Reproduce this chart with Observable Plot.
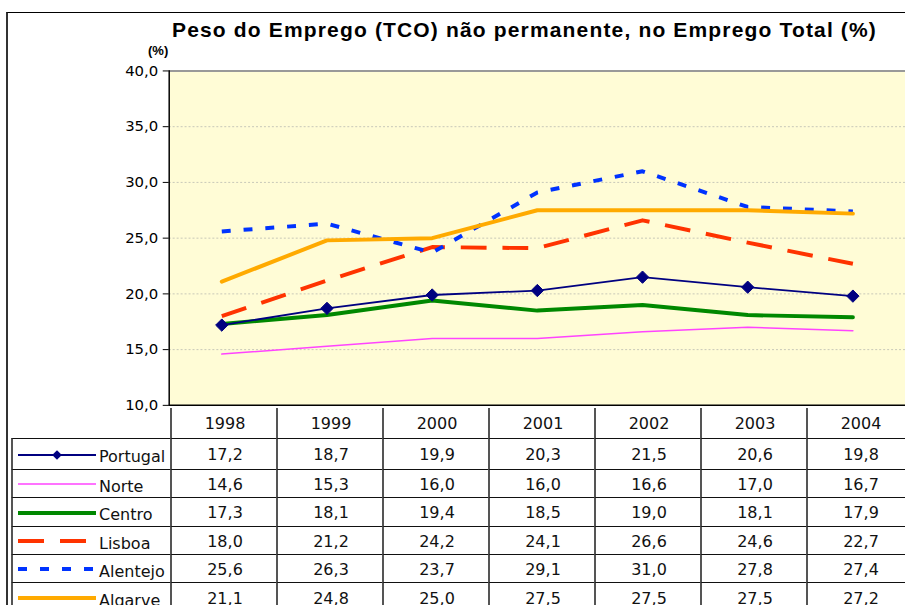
<!DOCTYPE html>
<html>
<head>
<meta charset="utf-8">
<script src="https://cdn.jsdelivr.net/npm/d3@7"></script>
<script src="https://cdn.jsdelivr.net/npm/@observablehq/plot@0.6"></script>
<style>
  html, body { margin: 0; padding: 0; background: #fff; }
  #wrap { position: relative; width: 905px; height: 605px; overflow: hidden; background: #fff; font-family: "DejaVu Sans", sans-serif; }
  #border { position: absolute; left: 6px; top: 12px; width: 1000px; height: 700px; border-left: 2px solid #333; border-top: 1px solid #000; }
  #title { position: absolute; top: 18px; left: 172px; font-family: "Liberation Sans", Arial, sans-serif; font-weight: bold; font-size: 21px; white-space: nowrap; color: #000; }
  #unit { position: absolute; top: 43px; left: 148px; font-family: "Liberation Sans", Arial, sans-serif; font-weight: bold; font-size: 13px; color: #000; }
  #chart { position: absolute; left: 0; top: 0; }
  .cell { position: absolute; box-sizing: border-box; display: flex; align-items: center; justify-content: center; font-size: 16px; color: #111; }
  .leg { justify-content: flex-start; }
</style>
</head>
<body>
<div id="wrap">
  <div id="border"></div>
  <div id="title">Peso do Emprego (TCO) não permanente, no Emprego Total (%)</div>
  <div id="unit">(%)</div>
  <div id="chart"></div>
  <div id="table"></div>
</div>
<script>
// ---- data ----
const years = ["1998", "1999", "2000", "2001", "2002", "2003", "2004"];
const seriesNames = ["Portugal", "Norte", "Centro", "Lisboa", "Alentejo", "Algarve"];
const portugal = [17.2, 18.7, 19.9, 20.3, 21.5, 20.6, 19.8];
const norte    = [14.6, 15.3, 16.0, 16.0, 16.6, 17.0, 16.7];
const centro   = [17.3, 18.1, 19.4, 18.5, 19.0, 18.1, 17.9];
const lisboa   = [18.0, 21.2, 24.2, 24.1, 26.6, 24.6, 22.7];
const alentejo = [25.6, 26.3, 23.7, 29.1, 31.0, 27.8, 27.4];
const algarve  = [21.1, 24.8, 25.0, 27.5, 27.5, 27.5, 27.2];
const yTicks = [10, 15, 20, 25, 30, 35, 40];

const values = {Portugal: portugal, Norte: norte, Centro: centro, Lisboa: lisboa, Alentejo: alentejo, Algarve: algarve};

// ---- styles ----
const styles = {
  Portugal: {stroke: "#000080", width: 1.8, dash: null, cap: "round"},
  Norte:    {stroke: "#FF44FF", width: 1.5, dash: null, cap: "round"},
  Centro:   {stroke: "#008800", width: 4,   dash: null, cap: "round"},
  Lisboa:   {stroke: "#FF3300", width: 4,   dash: "26,16", cap: "butt"},
  Alentejo: {stroke: "#0033FF", width: 4,   dash: "9,13", cap: "butt"},
  Algarve:  {stroke: "#FFAA00", width: 4,   dash: null, cap: "round"}
};

const fmt = d => d.toFixed(1).replace(".", ",");
const rows = name => years.map((yr, i) => ({year: yr, value: values[name][i], series: name}));

const drawOrder = ["Norte", "Centro", "Lisboa", "Alentejo", "Algarve", "Portugal"];

const chart = Plot.plot({
  width: 912,
  height: 420,
  marginTop: 71,
  marginBottom: 12,
  marginLeft: 170,
  marginRight: 0,
  style: {fontFamily: "DejaVu Sans", fontSize: "15px", color: "#000", background: "transparent", overflow: "visible"},
  x: {type: "point", domain: years, padding: 0.5, axis: null},
  y: {domain: [10, 40], axis: null},
  marks: [
    Plot.frame({fill: "#FFFCD6", stroke: null}),
    Plot.gridY(yTicks.slice(1, -1), {stroke: "#c8c8b8", strokeOpacity: 1, strokeDasharray: "2,2"}),
    Plot.ruleY([40], {stroke: "#999", strokeWidth: 2}),
    Plot.axisY(yTicks, {tickFormat: fmt, tickSize: 6, tickPadding: 5, fontSize: 15, stroke: "#000", label: null}),
    ...drawOrder.map(name => Plot.line(rows(name), {
      x: "year", y: "value",
      stroke: styles[name].stroke,
      strokeWidth: styles[name].width,
      strokeDasharray: styles[name].dash,
      strokeLinecap: styles[name].cap,
      strokeLinejoin: "round"
    })),
    Plot.dot(rows("Portugal"), {x: "year", y: "value", symbol: "diamond2", r: 5.6, fill: "#000080", stroke: "#000080", strokeWidth: 1}),
    Plot.frame({anchor: "left", stroke: "#000", strokeWidth: 1.5}),
    Plot.ruleY([10], {stroke: "#000", strokeWidth: 1.5})
  ]
});
document.getElementById("chart").appendChild(chart);

// ---- title letter-spacing to match width ----
const title = document.getElementById("title");
const w0 = title.getBoundingClientRect().width;
const n = title.textContent.length;
title.style.letterSpacing = ((705 - w0) / n) + "px";

// ---- data table ----
const table = document.getElementById("table");
const colX = years.map((_, i) => 170 + 106 * i);
const colW = 106;
const headTop = 408, headBot = 438;
const rowB = [438, 469, 497, 526, 554, 582, 612];

function cell(left, top, width, height, text, cls, opts = {}) {
  const d = document.createElement("div");
  d.className = "cell " + (cls || "");
  d.style.left = left + "px";
  d.style.top = top + "px";
  d.style.width = width + "px";
  d.style.height = height + "px";
  if (opts.bl !== false) d.style.borderLeft = "2px solid #555";
  if (opts.bt !== false) d.style.borderTop = "1px solid #111";
  if (text != null) d.textContent = text;
  table.appendChild(d);
  return d;
}

years.forEach((yr, i) => cell(colX[i], headTop, colW + 2, headBot - headTop + 1, yr, "", {bt: false}));

seriesNames.forEach((name, r) => {
  const top = rowB[r], h = rowB[r + 1] - rowB[r] + 1;
  const lc = cell(11, top, 161, h, null, "leg");
  const s = styles[name];
  const svgNS = "http://www.w3.org/2000/svg";
  const svg = document.createElementNS(svgNS, "svg");
  svg.setAttribute("width", 82); svg.setAttribute("height", 16);
  svg.style.marginLeft = "3px";
  svg.style.flex = "none";
  const ln = document.createElementNS(svgNS, "line");
  ln.setAttribute("x1", 2); ln.setAttribute("x2", 80);
  ln.setAttribute("y1", 8); ln.setAttribute("y2", 8);
  ln.setAttribute("stroke", s.stroke);
  ln.setAttribute("stroke-width", s.width);
  if (s.dash) ln.setAttribute("stroke-dasharray", s.dash);
  svg.appendChild(ln);
  if (name === "Portugal") {
    const p = document.createElementNS(svgNS, "path");
    p.setAttribute("d", d3.symbol(d3.symbolDiamond2, 60)());
    p.setAttribute("transform", "translate(41,8)");
    p.setAttribute("fill", s.stroke);
    svg.appendChild(p);
  }
  lc.appendChild(svg);
  const lab = document.createElement("span");
  lab.textContent = name;
  lab.style.marginLeft = "1px";
  lab.style.marginTop = "4px";
  lc.appendChild(lab);
  values[name].forEach((v, i) => cell(colX[i], top, colW + 2, h, fmt(v)));
});
</script>
</body>
</html>
